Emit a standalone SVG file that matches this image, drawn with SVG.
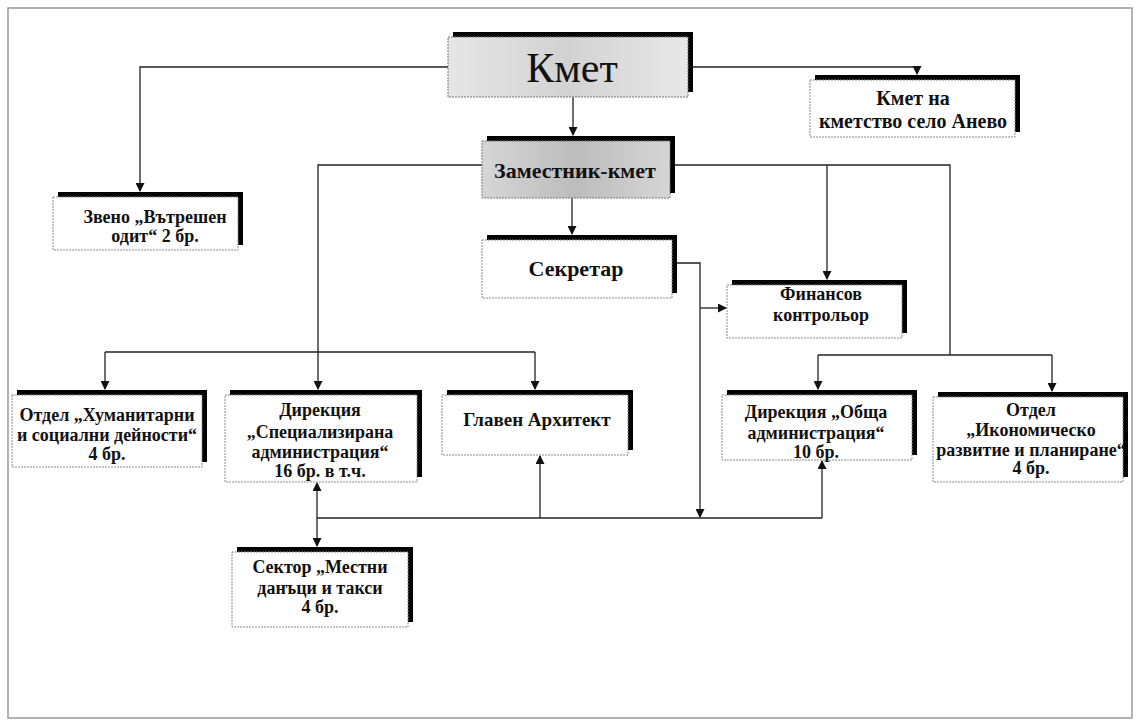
<svg xmlns="http://www.w3.org/2000/svg" width="1140" height="728" viewBox="0 0 1140 728">
<style>
.frame{fill:#ffffff;stroke:#9a9a9a;stroke-width:1.5}
.shadow{fill:#000000}
.box{fill:#ffffff;stroke:#8a8a8a;stroke-width:1;stroke-dasharray:2 1}
.gbox{fill:url(#g);stroke:#777;stroke-width:1;stroke-dasharray:2 1}
.gbox2{fill:url(#g2);stroke:#777;stroke-width:1;stroke-dasharray:2 1}
.t{font-family:"Liberation Serif","Times New Roman",serif;font-weight:bold;font-size:18px;fill:#111;text-anchor:middle}
.big{font-family:"Liberation Serif","Times New Roman",serif;font-size:42px;fill:#111;text-anchor:middle}
.c{fill:none;stroke:#222;stroke-width:1.3}
</style>
<defs>
<linearGradient id="g" x1="0" y1="0" x2="1" y2="0">
<stop offset="0" stop-color="#e6e6e6"/>
<stop offset="0.5" stop-color="#d2d2d2"/>
<stop offset="1" stop-color="#e8e8e8"/>
</linearGradient>
<linearGradient id="g2" x1="0" y1="0" x2="1" y2="0">
<stop offset="0" stop-color="#d6d6d6"/>
<stop offset="0.5" stop-color="#bcbcbc"/>
<stop offset="1" stop-color="#d6d6d6"/>
</linearGradient>
<marker id="a" markerWidth="9" markerHeight="9" refX="8" refY="4.5" orient="auto" markerUnits="userSpaceOnUse">
<path d="M0,0 L9,4.5 L0,9 Z" fill="#111"/>
</marker>
<marker id="as" markerWidth="9" markerHeight="9" refX="1" refY="4.5" orient="auto" markerUnits="userSpaceOnUse">
<path d="M9,0 L0,4.5 L9,9 Z" fill="#111"/>
</marker>
</defs>
<rect class="frame" x="8" y="8" width="1124" height="710"/>

<g id="connectors">
<path class="c" d="M448,67 H140 V191" marker-end="url(#a)"/>
<path class="c" d="M693,67 H917 V74" marker-end="url(#a)"/>
<path class="c" d="M573,97 V135" marker-end="url(#a)"/>
<path class="c" d="M572,198 V234" marker-end="url(#a)"/>
<path class="c" d="M482,165 H318 V389" marker-end="url(#a)"/>
<path class="c" d="M675,165 H950 V355"/>
<path class="c" d="M827,165 V279" marker-end="url(#a)"/>
<path class="c" d="M818,355 H1052"/>
<path class="c" d="M818,355 V389" marker-end="url(#a)"/>
<path class="c" d="M1052,355 V391" marker-end="url(#a)"/>
<path class="c" d="M105,352 H535"/>
<path class="c" d="M105,352 V389" marker-end="url(#a)"/>
<path class="c" d="M535,352 V389" marker-end="url(#a)"/>
<path class="c" d="M677,263 H700 V517" marker-end="url(#a)"/>
<path class="c" d="M700,308 H726" marker-end="url(#a)"/>
<path class="c" d="M317,483 V546" marker-start="url(#as)" marker-end="url(#a)"/>
<path class="c" d="M317,518 H822"/>
<path class="c" d="M540,518 V456" marker-end="url(#a)"/>
<path class="c" d="M822,518 V461" marker-end="url(#a)"/>
</g>

<g id="kmet">
<rect class="shadow" x="453" y="32" width="240" height="60"/>
<rect class="gbox" x="448" y="37" width="240" height="60"/>
<text class="big" x="572" y="82">Кмет</text>
</g>

<g id="kmet-anevo">
<rect class="shadow" x="815" y="75" width="205" height="57"/>
<rect class="box" x="810" y="80" width="205" height="57"/>
<text class="t" x="913" y="105" style="font-size:20px">Кмет на</text>
<text class="t" x="913" y="128" style="font-size:20px">кметство село Анево</text>
</g>

<g id="zamestnik">
<rect class="shadow" x="487" y="136" width="188" height="57"/>
<rect class="gbox2" x="482" y="141" width="188" height="57"/>
<text class="t" x="575" y="178" style="font-size:22px">Заместник-кмет</text>
</g>

<g id="zveno">
<rect class="shadow" x="58" y="192" width="185" height="53"/>
<rect class="box" x="53" y="197" width="185" height="53"/>
<text class="t" x="155" y="223">Звено „Вътрешен</text>
<text class="t" x="155" y="242">одит“ 2 бр.</text>
</g>

<g id="sekretar">
<rect class="shadow" x="487" y="235" width="190" height="58"/>
<rect class="box" x="482" y="240" width="190" height="58"/>
<text class="t" x="576" y="276" style="font-size:22px">Секретар</text>
</g>

<g id="finansov">
<rect class="shadow" x="732" y="280" width="175" height="53"/>
<rect class="box" x="727" y="285" width="175" height="53"/>
<text class="t" x="821" y="300">Финансов</text>
<text class="t" x="821" y="321">контрольор</text>
</g>

<g id="humanitarni">
<rect class="shadow" x="17" y="390" width="190" height="72"/>
<rect class="box" x="12" y="395" width="190" height="72"/>
<text class="t" x="107" y="421">Отдел „Хуманитарни</text>
<text class="t" x="107" y="441">и социални дейности“</text>
<text class="t" x="107" y="460">4 бр.</text>
</g>

<g id="specializirana">
<rect class="shadow" x="230" y="390" width="192" height="87"/>
<rect class="box" x="225" y="395" width="192" height="87"/>
<text class="t" x="320" y="416">Дирекция</text>
<text class="t" x="320" y="438">„Специализирана</text>
<text class="t" x="320" y="458">администрация“</text>
<text class="t" x="320" y="477">16 бр. в т.ч.</text>
</g>

<g id="arhitekt">
<rect class="shadow" x="447" y="390" width="186" height="60"/>
<rect class="box" x="442" y="395" width="186" height="60"/>
<text class="t" x="537" y="426" style="font-size:19px">Главен Архитект</text>
</g>

<g id="obshta">
<rect class="shadow" x="727" y="390" width="190" height="65"/>
<rect class="box" x="722" y="395" width="190" height="65"/>
<text class="t" x="816" y="418">Дирекция „Обща</text>
<text class="t" x="816" y="439">администрация“</text>
<text class="t" x="816" y="458">10 бр.</text>
</g>

<g id="ikonomichesko">
<rect class="shadow" x="938" y="392" width="190" height="85"/>
<rect class="box" x="933" y="397" width="190" height="85"/>
<text class="t" x="1031" y="416">Отдел</text>
<text class="t" x="1031" y="436">„Икономическо</text>
<text class="t" x="1031" y="456">развитие и планиране“</text>
<text class="t" x="1031" y="474">4 бр.</text>
</g>

<g id="mestni">
<rect class="shadow" x="237" y="547" width="176" height="75"/>
<rect class="box" x="232" y="552" width="176" height="75"/>
<text class="t" x="320" y="573">Сектор „Местни</text>
<text class="t" x="320" y="594">данъци и такси</text>
<text class="t" x="320" y="613">4 бр.</text>
</g>
</svg>
